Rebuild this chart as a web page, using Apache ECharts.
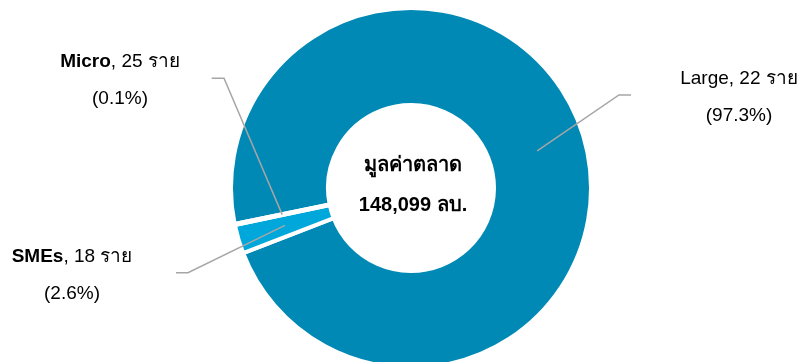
<!DOCTYPE html>
<html>
<head>
<meta charset="utf-8">
<script src="https://cdn.jsdelivr.net/npm/echarts@6/dist/echarts.min.js"></script>
<style>
  html, body { margin: 0; padding: 0; background: #ffffff; }
  #chart { width: 798px; height: 362px; }
</style>
</head>
<body>
<div id="chart"></div>
<script>
// ---- data ----
const categories = ['Large', 'SMEs', 'Micro'];
const shares = [97.3, 2.6, 0.1];          // % of market value
const counts = [22, 18, 25];              // number of companies (ราย)
const centerTitle = 'มูลค่าตลาด';
const totalValue = '148,099 ลบ.';

// ---- layout / style ----
const FONT = '"Liberation Sans", Arial, "Noto Sans", "DejaVu Sans", sans-serif';
const colors = ['#0089B5', '#00A7DB', '#2E75B6'];
const boldName = [false, true, true];
const CX = 411, CY = 188, R_IN = 83, R_OUT = 180, START = 191.5;
// label block centres and label line elbow/end points
const labelPos = [[739, 97], [72, 275], [120, 80]];
const lineElbow = [[619, 95], [188, 272.7], [224, 78.3]];
const lineEnd = [[631, 95], [176, 272.7], [211.7, 78.3]];

const total = shares.reduce((a, b) => a + b, 0);
function midPoint(i) {
  let cum = 0;
  for (let k = 0; k < i; k++) cum += shares[k];
  const mid = START - 360 * (cum + shares[i] / 2) / total;
  const r = (R_IN + R_OUT) / 2;
  const a = mid * Math.PI / 180;
  return [CX + r * Math.cos(a), CY - r * Math.sin(a)];
}

const sliceData = categories.map((c, i) => ({
  name: c,
  value: shares[i],
  itemStyle: { color: colors[i] }
}));

const labelData = categories.map((c, i) => ({
  name: c,
  value: shares[i],
  label: {
    formatter: (boldName[i] ? '{b|' + c + '}' : '{n|' + c + '}') +
      '{n|, ' + counts[i] + ' ราย}\n{n|(' + shares[i].toFixed(1) + '%)}'
  }
}));

const chart = echarts.init(document.getElementById('chart'), null, { renderer: 'canvas' });
chart.setOption({
  animation: false,
  backgroundColor: '#ffffff',
  textStyle: { fontFamily: FONT },
  graphic: [{
    type: 'text',
    x: 413,
    y: 185,
    style: {
      text: centerTitle + '\n' + totalValue,
      textAlign: 'center',
      textVerticalAlign: 'middle',
      fontFamily: FONT,
      fontSize: 20,
      fontWeight: 'bold',
      lineHeight: 40,
      fill: '#000000'
    }
  }],
  series: [{
    type: 'pie',
    z: 2,
    center: [CX, CY],
    radius: [R_IN, R_OUT],
    startAngle: START,
    clockwise: true,
    silent: true,
    itemStyle: { borderColor: '#ffffff', borderWidth: 4 },
    emphasis: { disabled: true },
    label: { show: false },
    labelLine: { show: false },
    data: sliceData
  }, {
    type: 'pie',
    z: 5,
    center: [CX, CY],
    radius: [R_IN, R_OUT],
    startAngle: START,
    clockwise: true,
    avoidLabelOverlap: false,
    silent: true,
    itemStyle: { color: 'rgba(0,0,0,0)', borderWidth: 0 },
    emphasis: { disabled: true },
    label: {
      show: true,
      position: 'outside',
      color: '#000000',
      fontFamily: FONT,
      fontSize: 19,
      align: 'center',
      rich: {
        b: { fontFamily: FONT, fontSize: 19, fontWeight: 'bold', color: '#000', lineHeight: 37, align: 'center' },
        n: { fontFamily: FONT, fontSize: 19, color: '#000', lineHeight: 37, align: 'center' }
      }
    },
    labelLine: {
      show: true,
      smooth: false,
      lineStyle: { color: '#A6A6A6', width: 1.5 }
    },
    labelLayout: function (params) {
      const i = params.dataIndex;
      return {
        x: labelPos[i][0],
        y: labelPos[i][1],
        align: 'center',
        verticalAlign: 'middle',
        labelLinePoints: [midPoint(i), lineElbow[i], lineEnd[i]]
      };
    },
    data: labelData
  }]
});
</script>
</body>
</html>
